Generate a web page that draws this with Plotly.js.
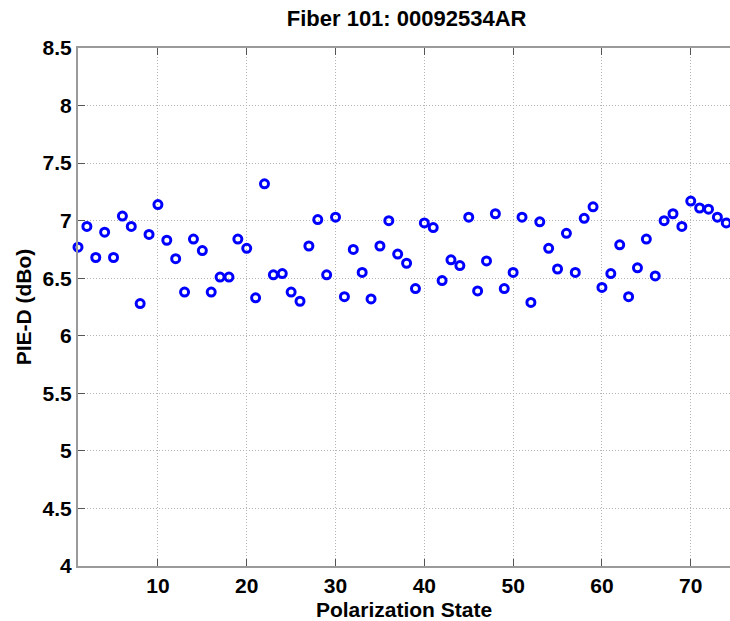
<!DOCTYPE html>
<html>
<head>
<meta charset="utf-8">
<script src="https://cdn.plot.ly/plotly-3.0.1.min.js"></script>
<style>
  html, body { margin: 0; padding: 0; background: #fff; overflow: hidden; }
  #chart { width: 730px; height: 621px; }
</style>
</head>
<body>
<div id="chart"></div>
<script>
// Polarization state index
const polarizationState = [
  1, 2, 3, 4, 5, 6, 7, 8, 9, 10,
  11, 12, 13, 14, 15, 16, 17, 18, 19, 20,
  21, 22, 23, 24, 25, 26, 27, 28, 29, 30,
  31, 32, 33, 34, 35, 36, 37, 38, 39, 40,
  41, 42, 43, 44, 45, 46, 47, 48, 49, 50,
  51, 52, 53, 54, 55, 56, 57, 58, 59, 60,
  61, 62, 63, 64, 65, 66, 67, 68, 69, 70,
  71, 72, 73, 74, 75
];
// PIE-D values (dBo)
const pieD = [
  6.77, 6.95, 6.68, 6.90, 6.68, 7.04, 6.95, 6.28, 6.88, 7.14,
  6.83, 6.67, 6.38, 6.84, 6.74, 6.38, 6.51, 6.51, 6.84, 6.76,
  6.33, 7.32, 6.53, 6.54, 6.38, 6.30, 6.78, 7.01, 6.53, 7.03,
  6.34, 6.75, 6.55, 6.32, 6.78, 7.00, 6.71, 6.63, 6.41, 6.98,
  6.94, 6.48, 6.66, 6.61, 7.03, 6.39, 6.65, 7.06, 6.41, 6.55,
  7.03, 6.29, 6.99, 6.76, 6.58, 6.89, 6.55, 7.02, 7.12, 6.42,
  6.54, 6.79, 6.34, 6.59, 6.84, 6.52, 7.00, 7.06, 6.95, 7.17,
  7.11, 7.10, 7.03, 6.98, 7.15
];
const chartTitle = 'Fiber 101: 00092534AR';
const xTitle = 'Polarization State';
const yTitle = 'PIE-D (dBo)';

const FONT = 'Liberation Sans, Arial, sans-serif';
const bold21 = { family: FONT, size: 21, color: '#000', weight: 'bold' };

const trace = {
  x: polarizationState,
  y: pieD,
  type: 'scatter',
  mode: 'markers',
  cliponaxis: false,
  marker: {
    symbol: 'circle-open',
    size: 8,
    color: '#0000ff',
    line: { width: 3, color: '#0000ff' }
  },
  hoverinfo: 'x+y'
};

const layout = {
  width: 730,
  height: 621,
  margin: { l: 78, r: 0, t: 48, b: 55, pad: 0 },
  paper_bgcolor: '#ffffff',
  plot_bgcolor: '#ffffff',
  showlegend: false,
  font: bold21,
  title: {
    text: chartTitle,
    font: { family: FONT, size: 22, color: '#000', weight: 'bold' },
    x: 0.557, xref: 'container', xanchor: 'center',
    y: 0.971, yref: 'container', yanchor: 'middle'
  },
  xaxis: {
    range: [1, 74.42],
    tick0: 0, dtick: 10,
    ticks: 'inside', ticklen: 7, tickwidth: 1, tickcolor: '#555',
    showline: true, linecolor: '#9a9a9a', linewidth: 2, mirror: 'allticks',
    showgrid: true, gridcolor: '#b4b4b4', gridwidth: 1, griddash: '1px,2px',
    zeroline: false,
    tickfont: bold21,
    title: { text: xTitle, standoff: 6, font: bold21 },
    automargin: false
  },
  yaxis: {
    range: [4, 8.5],
    tick0: 4, dtick: 0.5,
    ticks: 'inside', ticklen: 7, tickwidth: 1, tickcolor: '#555',
    showline: true, linecolor: '#9a9a9a', linewidth: 2, mirror: false,
    showgrid: true, gridcolor: '#b4b4b4', gridwidth: 1, griddash: '1px,2px',
    zeroline: false,
    tickfont: bold21,
    title: { text: yTitle, standoff: 5, font: bold21 },
    automargin: false
  }
};

Plotly.newPlot('chart', [trace], layout, { displayModeBar: false, staticPlot: true });
</script>
</body>
</html>
